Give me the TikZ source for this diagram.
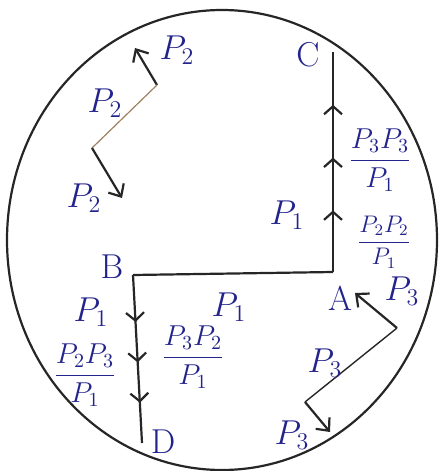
\documentclass[tikz,border=0pt]{standalone}
\usepackage{tikz}
\usetikzlibrary{decorations.markings,arrows.meta}
\usepackage[dvipsnames]{xcolor}
\definecolor{ink}{RGB}{35,35,140}

\tikzset{
    lbl/.style={text=ink, font=\LARGE, inner sep=1pt},
    frac/.style={text=ink, font=\Large, inner sep=1pt},
    rod/.style={line width=1.1pt, draw=black!85},
    faint/.style={line width=0.6pt, draw=brown!50!gray},
    tip/.style={-{Straight Barb[length=5pt,width=9pt]}},
    flow/.style={
        postaction={decorate},
        decoration={markings,
            mark=at position 0.28 with {\arrow{Straight Barb[length=4pt,width=9pt]}},
            mark=at position 0.52 with {\arrow{Straight Barb[length=4pt,width=9pt]}},
            mark=at position 0.76 with {\arrow{Straight Barb[length=4pt,width=9pt]}}}
    }
}

\begin{document}
\begin{tikzpicture}[x=0.5pt,y=-0.5pt]
\useasboundingbox (0,0) rectangle (439,471);

% the big circle
\draw[line width=1.1pt, black!85] (222,240) ellipse [x radius=215, y radius=230];

\coordinate (C) at (333,52);
\coordinate (A) at (333,272);
\coordinate (B) at (133,275);
\coordinate (D) at (142,443);

\draw[rod] (B) -- (A);
\draw[rod, flow] (A) -- (C);   % arrows point up to C
\draw[rod, flow] (B) -- (D);   % arrows point down to D

\node[lbl] (c) at (308,55) {C};
\node[lbl] (b) at (112,267) {B};
\node[lbl] (a) at (340,298) {A};
\node[lbl] (d) at (163,442) {D};

\node[lbl] (p1ca) at (287,215) {$P_1$};
\node[frac] (f33) at (380,160) {$\displaystyle\frac{P_3P_3}{P_1}$};
\node[frac, font=\large] (f22) at (384,242) {$\displaystyle\frac{P_2P_2}{P_1}$};
\node[lbl] (p1bd) at (91,312) {$P_1$};
\node[frac] (f23) at (85,375) {$\displaystyle\frac{P_2P_3}{P_1}$};
\node[frac] (f32) at (193,357) {$\displaystyle\frac{P_3P_2}{P_1}$};
\node[lbl] (p1ba) at (229,307) {$P_1$};

% zigzag near A
\coordinate (r1) at (397,328);
\coordinate (r2) at (305,402);
\coordinate (r3) at (330,432);
\coordinate (rtip) at (355,293);
\draw[rod, tip] (r1) -- (rtip);
\draw[rod, line width=0.7pt] (r1) -- (r2);
\draw[rod, tip] (r2) -- (r3);
\node[lbl] (p3a) at (402,291) {$P_3$};
\node[lbl] (p3m) at (325,363) {$P_3$};
\node[lbl] (p3b) at (292,435) {$P_3$};

% zigzag top left
\coordinate (l1) at (157,85);
\coordinate (l2) at (92,148);
\coordinate (l3) at (122,198);
\coordinate (ltip) at (135,48);
\draw[rod, tip] (l1) -- (ltip);
\draw[faint] (l1) -- (l2);
\draw[rod, tip] (l2) -- (l3);
\node[lbl] (p2a) at (177,50) {$P_2$};
\node[lbl] (p2m) at (105,103) {$P_2$};
\node[lbl] (p2b) at (84,198) {$P_2$};
\end{tikzpicture}
\end{document}
